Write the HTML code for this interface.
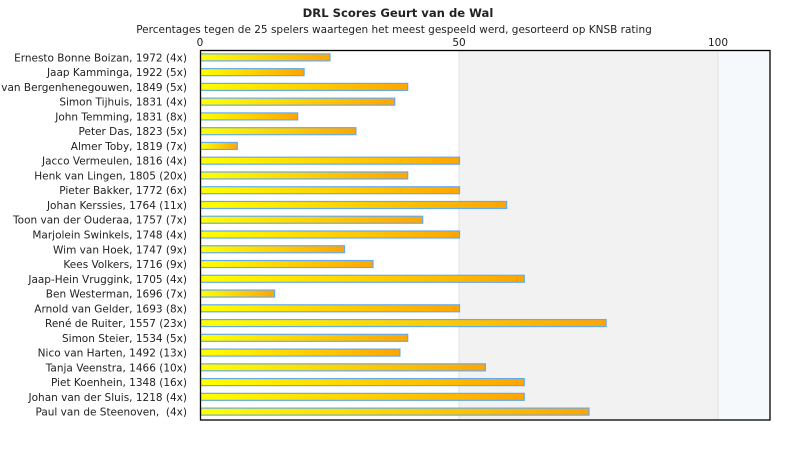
<!DOCTYPE html>
<html><head><meta charset="utf-8"><style>
body{margin:0;background:#fff;width:790px;height:450px;overflow:hidden}
text{font-family:"DejaVu Sans","Liberation Sans",sans-serif;fill:#222}
</style></head><body>
<svg width="790" height="450" xmlns="http://www.w3.org/2000/svg">
<defs><linearGradient id="g" x1="0" x2="1" y1="0" y2="0"><stop offset="0" stop-color="#ffff00"/><stop offset="1" stop-color="#ffa500"/></linearGradient></defs>
<text x="398" y="17" text-anchor="middle" font-size="11.6" font-weight="bold">DRL Scores Geurt van de Wal</text>
<text x="394" y="33" text-anchor="middle" font-size="10.5">Percentages tegen de 25 spelers waartegen het meest gespeeld werd, gesorteerd op KNSB rating</text>
<text x="200" y="46" text-anchor="middle" font-size="10.5">0</text>
<text x="459" y="46" text-anchor="middle" font-size="10.5">50</text>
<text x="718" y="46" text-anchor="middle" font-size="10.5">100</text>
<rect x="459" y="50" width="259" height="370" fill="#f2f2f2"/>
<rect x="718" y="50" width="52" height="370" fill="#f6f9fb"/>
<line x1="459" y1="50" x2="459" y2="420" stroke="#e2e2e2"/>
<line x1="718" y1="50" x2="718" y2="420" stroke="#e2e2e2"/>
<g id="bars"></g>
<rect x="200.5" y="50.5" width="569.5" height="369.5" fill="none" stroke="#000" stroke-width="1.3"/>
</svg>
<script>
var d=[["Ernesto Bonne Boizan, 1972 (4x)",25],["Jaap Kamminga, 1922 (5x)",20],["van Bergenhenegouwen, 1849 (5x)",40],["Simon Tijhuis, 1831 (4x)",37.5],["John Temming, 1831 (8x)",18.75],["Peter Das, 1823 (5x)",30],["Almer Toby, 1819 (7x)",7.1],["Jacco Vermeulen, 1816 (4x)",50],["Henk van Lingen, 1805 (20x)",40],["Pieter Bakker, 1772 (6x)",50],["Johan Kerssies, 1764 (11x)",59.1],["Toon van der Ouderaa, 1757 (7x)",42.9],["Marjolein Swinkels, 1748 (4x)",50],["Wim van Hoek, 1747 (9x)",27.8],["Kees Volkers, 1716 (9x)",33.3],["Jaap-Hein Vruggink, 1705 (4x)",62.5],["Ben Westerman, 1696 (7x)",14.3],["Arnold van Gelder, 1693 (8x)",50],["René de Ruiter, 1557 (23x)",78.3],["Simon Steier, 1534 (5x)",40],["Nico van Harten, 1492 (13x)",38.5],["Tanja Veenstra, 1466 (10x)",55],["Piet Koenhein, 1348 (16x)",62.5],["Johan van der Sluis, 1218 (4x)",62.5],["Paul van de Steenoven,  (4x)",75]];
var s="";
d.forEach(function(r,i){var c=50+(i+0.5)*14.76;var w=r[1]*5.18;
s+='<rect x="200.5" y="'+(c-3.5)+'" width="'+w+'" height="7" fill="url(#g)" stroke="#66aaee" stroke-width="1.2"/>';
s+='<text x="187" y="'+(c+4)+'" text-anchor="end" font-size="10.5" xml:space="preserve">'+r[0]+'</text>';});
document.getElementById("bars").innerHTML=s;
</script>
</body></html>
